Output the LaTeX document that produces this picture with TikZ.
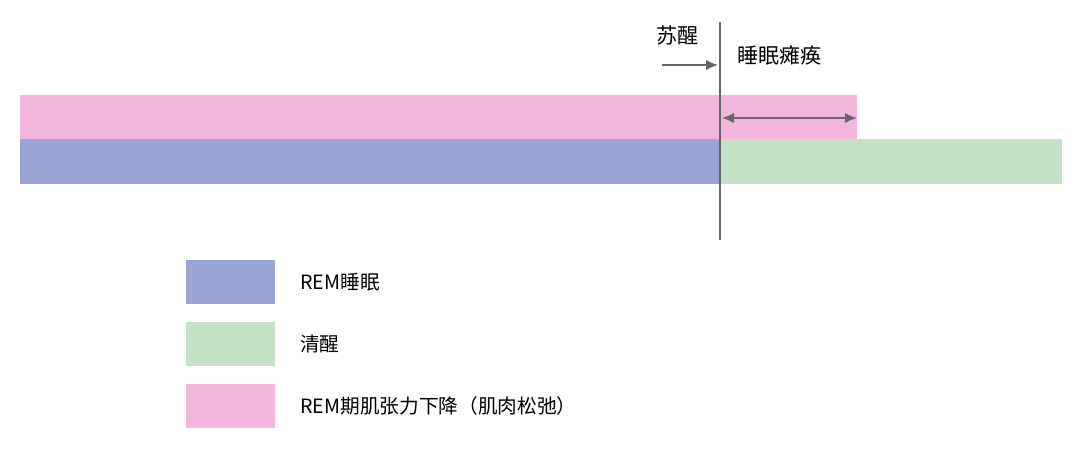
\documentclass[tikz,border=0pt]{standalone}
\usepackage{fontspec}
\newfontfamily\cjk{Noto Sans CJK SC}
\usetikzlibrary{arrows.meta, positioning}
\definecolor{remcol}{HTML}{9AA5D5}
\definecolor{wakecol}{HTML}{C5E1C8}
\definecolor{atoncol}{HTML}{F2B5DC}
\definecolor{linecol}{HTML}{666666}
\begin{document}
\begin{tikzpicture}[
        x=0.025cm, y=-0.025cm,
        bar/.style={draw=none, inner sep=0, outer sep=0, anchor=north west},
        lbl/.style={font=\cjk\fontsize{14}{16}\selectfont, anchor=west, inner sep=0},
        every edge/.style={draw, linecol, line width=1.3pt, -{Latex[length=3mm, width=2.6mm]}}
    ]
    \useasboundingbox (0,0) rectangle (1080,453);
    % bars
    \fill[atoncol] (20,95) rectangle (857,139);
    \fill[remcol] (20,139) rectangle (720,184);
    \fill[wakecol] (720,139) rectangle (1062,184);
    % wake line
    \coordinate (top) at (720,22);
    \coordinate (bot) at (720,240);
    \draw[linecol, line width=1.6pt] (top) -- (bot);
    \coordinate (wstart) at (662,65);
    \coordinate (wend) at (718,65);
    \draw (wstart) edge (wend);
    \node[lbl, font=\cjk\fontsize{15}{17}\selectfont] (wake) at (656,35) {苏醒};
    % paralysis
    \coordinate (pa) at (722,118);
    \coordinate (pb) at (857,118);
    \draw (pa) edge[{Latex[length=3mm, width=2.6mm]}-{Latex[length=3mm, width=2.6mm]}] (pb);
    \node[lbl, font=\cjk\fontsize{15}{17}\selectfont] (para) at (737,55) {睡眠瘫痪};
    % legend
    \fill[remcol] (186,260) rectangle (275,304);
    \fill[wakecol] (186,322) rectangle (275,366);
    \fill[atoncol] (186,384) rectangle (275,428);
    \node[lbl] (lrem) at (300,282) {REM睡眠};
    \node[lbl] (lwake) at (300,344) {清醒};
    \node[lbl] (laton) at (300,406) {REM期肌张力下降（肌肉松弛）};
\end{tikzpicture}
\end{document}
